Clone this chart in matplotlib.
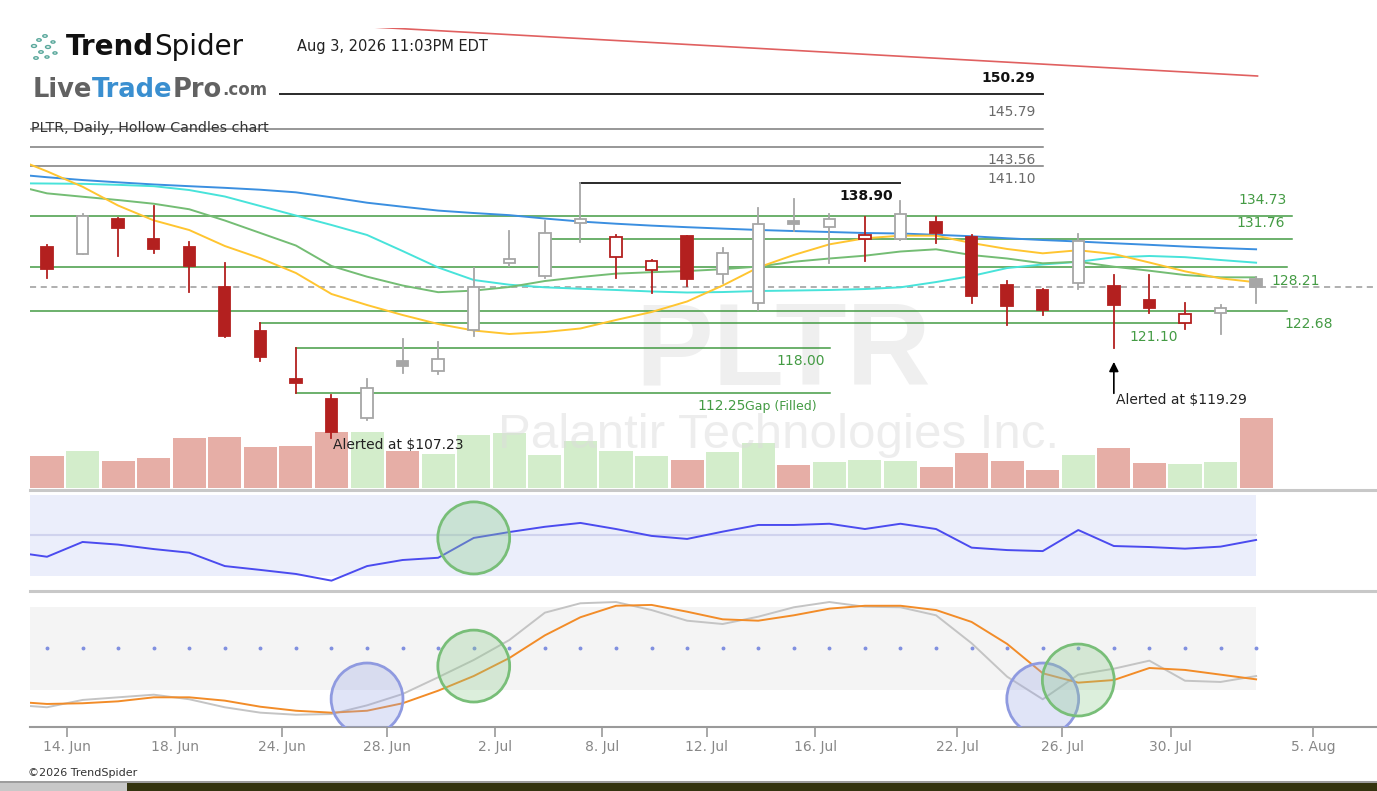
import numpy as np
import matplotlib
matplotlib.use('Agg')
import matplotlib.pyplot as plt
from matplotlib.patches import Rectangle, Ellipse, Circle
from matplotlib.lines import Line2D

# ---- data ----
opens = [130.83, 129.90, 134.39, 131.85, 130.83, 125.75, 120.12, 114.06, 111.52, 109.10,
         116.31, 115.04, 120.25, 128.80, 127.15, 133.80, 129.56, 127.83, 132.15, 127.36,
         123.64, 134.10, 133.29, 131.81, 131.77, 133.97, 132.10, 125.96, 125.33, 126.18,
         125.84, 124.06, 121.10, 122.37, 126.73]
highs = [131.05, 134.95, 134.45, 136.00, 131.39, 128.80, 121.10, 118.00, 112.00, 114.06,
         119.06, 118.76, 128.09, 132.82, 134.13, 138.90, 132.32, 129.14, 132.20, 130.70,
         135.71, 136.85, 134.95, 134.64, 136.67, 134.64, 132.32, 126.47, 125.40, 132.40,
         127.23, 127.23, 123.71, 123.42, 127.02]
lows = [126.81, 129.85, 129.65, 129.99, 125.04, 119.32, 116.31, 112.25, 106.48, 108.81,
        114.82, 114.62, 119.48, 128.42, 126.81, 131.47, 126.81, 124.91, 125.87, 126.25,
        122.79, 132.86, 128.72, 129.05, 131.70, 131.26, 123.64, 120.88, 122.15, 125.42,
        117.92, 122.44, 120.37, 119.74, 123.71]
closes = [128.00, 134.73, 133.21, 130.54, 128.42, 119.48, 116.78, 113.55, 107.30, 112.91,
          115.67, 116.60, 125.75, 129.23, 132.53, 134.39, 132.10, 128.97, 126.69, 130.03,
          133.70, 133.75, 134.35, 132.32, 134.95, 132.53, 124.57, 123.29, 122.79, 131.55,
          123.42, 123.00, 122.24, 123.08, 125.67]
volume = [38.4, 44.4, 32.4, 35.6, 59.6, 61.2, 49.2, 50.8, 67.2, 67.2,
          44.4, 41.2, 64.0, 66.0, 39.6, 56.4, 44.4, 38.4, 34.0, 43.2,
          53.6, 28.0, 30.8, 34.0, 32.4, 24.8, 41.6, 32.4, 21.6, 40.0,
          47.6, 29.6, 29.2, 30.8, 84.0]

# moving averages, first value is the bar before the visible window
ma_yellow = [142.23, 140.41, 138.45, 136.06, 134.18, 132.95, 130.92, 129.36, 127.49, 124.82,
             123.42, 122.15, 121.01, 120.18, 119.74, 119.99, 120.44, 121.52, 122.53, 123.87,
             125.90, 128.19, 129.78, 131.13, 131.90, 132.23, 132.23, 131.30, 130.54, 129.99,
             130.38, 129.90, 128.82, 127.70, 126.81, 126.31]
ma_green = [138.73, 137.61, 137.18, 136.76, 136.29, 135.59, 134.16, 132.57, 130.98, 128.38,
            127.02, 125.90, 125.05, 125.25, 125.71, 126.47, 126.98, 127.41, 127.59, 127.74,
            127.97, 128.31, 128.92, 129.33, 129.69, 130.22, 130.50, 129.77, 129.33, 128.72,
            128.92, 128.29, 127.78, 127.23, 126.94, 126.94]
ma_cyan = [138.89, 138.86, 138.82, 138.69, 138.52, 138.03, 137.21, 136.00, 134.79, 133.59,
           132.32, 130.28, 128.19, 126.60, 126.00, 125.67, 125.49, 125.33, 125.14, 125.01,
           125.07, 125.20, 125.26, 125.33, 125.45, 125.67, 126.34, 127.11, 128.12, 128.57,
           128.91, 129.48, 129.65, 129.50, 129.14, 128.80]
ma_blue = [140.07, 139.66, 139.30, 139.01, 138.74, 138.52, 138.31, 138.07, 137.74, 137.11,
           136.42, 135.91, 135.42, 135.11, 134.84, 134.41, 134.03, 133.75, 133.51, 133.31,
           133.13, 132.96, 132.82, 132.70, 132.57, 132.51, 132.34, 132.16, 131.90, 131.68,
           131.49, 131.27, 131.07, 130.85, 130.66, 130.50]

rsi = [42.0, 39.5, 46.8, 45.5, 43.3, 41.5, 34.9, 33.0, 31.0, 27.7, 34.9, 37.9, 39.0, 48.8,
       51.7, 54.3, 56.2, 53.2, 49.8, 48.3, 51.9, 55.2, 55.2, 55.8, 53.2, 55.8, 53.2, 44.0,
       42.8, 42.3, 52.7, 44.8, 44.3, 43.5, 44.5, 47.8]
stoch_k = [9.4, 7.5, 12.8, 14.7, 16.6, 13.3, 7.5, 3.6, 2.1, 2.6, 8.9, 17.1, 29.2, 41.7,
           56.1, 75.9, 82.7, 83.6, 77.8, 70.1, 67.7, 73.0, 79.8, 83.6, 80.2, 79.8, 74.0,
           53.8, 29.6, 13.3, 31.1, 35.4, 41.2, 26.7, 25.8, 30.1]
stoch_d = [11.7, 9.9, 10.4, 11.8, 14.7, 14.7, 12.3, 7.9, 5.0, 3.6, 5.0, 10.4, 19.5, 30.1,
           43.1, 59.5, 72.6, 80.9, 81.5, 76.6, 71.1, 70.1, 74.0, 78.8, 80.9, 80.9, 77.8,
           69.2, 53.3, 32.1, 25.3, 27.2, 35.9, 34.5, 31.1, 27.7]

# horizontal levels: price, start bar, end bar, style
levels = [150.29, 145.79, 143.56, 141.10, 138.90, 134.73, 131.76, 128.21, 122.68, 121.10, 118.00, 112.25]
lvl_start = [6.55, -1, -1, -1, 15, -1, 14, -1, -1, 6, 7, 7]
lvl_end = [28.0, 28.0, 28.0, 28.0, 24.0, 35.0, 35.0, 34.86, 34.86, 32.0, 22.02, 22.02]
lvl_kind = ['key', 'grey', 'grey', 'grey', 'key', 'green', 'green', 'green', 'green', 'green', 'green', 'green']
lbl_x = [27.8, 27.8, 27.8, 27.8, 23.8, 34.87, 34.8, 35.8, 36.16, 31.8, 21.88, None]
lbl_dy = [16, 16.5, -13, -13, -13, 16, 16, -14, -13, -13.5, -13, -13.5]   # px, + above

trend_x = [5.0, 34.04]
trend_y = [159.78, 152.52]

tick_pos = [0.55, 3.6, 6.6, 9.55, 12.6, 15.6, 18.55, 21.6, 25.6, 28.55, 31.6, 35.6]
tick_lbl = ['14. Jun', '18. Jun', '24. Jun', '28. Jun', '2. Jul', '8. Jul', '12. Jul',
            '16. Jul', '22. Jul', '26. Jul', '30. Jul', '5. Aug']

rsi_marks = [(12, 48.8)]
stoch_blue = [(9, 13.5), (28, 13.5)]
stoch_green = [(12, 37.3), (29, 27.2)]

# ---- figure ----
W, H = 1377, 791
plt.rcParams['font.family'] = ['DejaVu Sans']
fig = plt.figure(figsize=(W / 100, H / 100), dpi=100)
fig.patch.set_facecolor('white')


def fy(px):
    return 1 - px / H


n = len(closes)
idx = np.arange(n)
xm = np.arange(-1, n)
XL = (-0.478, 37.40)
RED = '#b3201f'
GREY = '#a6a6a6'
GREEN = '#449b44'

rect_main = [30 / W, fy(488), 1347 / W, 460 / H]
ax_vol = fig.add_axes(rect_main, zorder=1)
ax = fig.add_axes(rect_main, zorder=2)
ax.patch.set_visible(False)
ax_vol.patch.set_visible(False)
for a in (ax, ax_vol):
    a.set_xlim(*XL)
    a.axis('off')
ax.set_ylim(100.17, 158.62)

# volume
opens_a = np.array(opens)
closes_a = np.array(closes)
vol_col = np.where(closes_a < opens_a, '#e6aea6', '#d3edcb')
ax_vol.bar(idx, volume, width=0.93, color=vol_col, linewidth=0)
ax_vol.set_ylim(0, 552)

# watermarks
ax.text(20.7, 117.2, 'PLTR', fontsize=84, fontweight='bold', color='#efefef',
        ha='center', va='center', family=['Liberation Sans', 'DejaVu Sans'], zorder=0.5)
ax.text(20.56, 106.9, 'Palantir Technologies Inc.', fontsize=35.5, color='#dcdcdc', alpha=0.5,
        ha='center', va='center', family=['Liberation Sans', 'DejaVu Sans'], zorder=0.5)

# levels
for p, s, e, k, lx, dy in zip(levels, lvl_start, lvl_end, lvl_kind, lbl_x, lbl_dy):
    if k == 'key':
        col, lw, tcol, fw = '#2a2a2a', 1.4, '#111111', 'bold'
    elif k == 'grey':
        col, lw, tcol, fw = '#7a7a7a', 1.1, '#6a6a6a', 'normal'
    else:
        col, lw, tcol, fw = GREEN, 1.1, GREEN, 'normal'
    ax.plot([s, e], [p, p], color=col, lw=lw, zorder=2)
    if lx is not None:
        ax.annotate(f'{p:.2f}', (lx, p), xytext=(0, dy * 0.72), textcoords='offset points',
                    ha='right', va='center', fontsize=10, color=tcol, fontweight=fw, zorder=6)

# current price
ax.plot(XL, [closes[-1]] * 2, color='#9a9a9a', lw=1.1, ls=(0, (4, 3)), zorder=2)

# trend line
ax.plot(trend_x, trend_y, color='#e06060', lw=1.2, zorder=2)

# moving averages
ax.plot(xm, ma_blue, color='#3b8fe0', lw=1.4, zorder=3)
ax.plot(xm, ma_cyan, color='#48e3da', lw=1.4, zorder=3)
ax.plot(xm, ma_green, color='#74bd74', lw=1.4, zorder=3)
ax.plot(xm, ma_yellow, color='#ffc530', lw=1.4, zorder=3)

# hollow candles
prev = np.r_[opens[0], closes[:-1]]
bw = 0.32
for i in idx:
    o, h, l, c = opens[i], highs[i], lows[i], closes[i]
    col = GREY if c >= prev[i] else RED
    ax.plot([i, i], [l, h], color=col, lw=1.3, zorder=4)
    lo, ht = min(o, c), max(abs(c - o), 0.25)
    face = 'white' if c > o else col
    ax.add_patch(Rectangle((i - bw / 2, lo), bw, ht, facecolor=face, edgecolor=col,
                           lw=1.3, zorder=5))

# alerts
ax.text(8.04, 105.63, 'Alerted at $107.23', fontsize=10, color='#222222', ha='left', va='center', zorder=6)
ax.annotate('', xy=(30, 116.2), xytext=(30, 112.2),
            arrowprops=dict(arrowstyle='-|>', color='black', lw=1.2, mutation_scale=14,
                            shrinkA=0, shrinkB=0), zorder=6)
ax.text(30.05, 111.35, 'Alerted at $119.29', fontsize=10, color='#222222', ha='left', va='center', zorder=6)

# ---- RSI panel ----
ax2 = fig.add_axes([30 / W, fy(588), 1347 / W, 96 / H])
ax2.set_xlim(*XL)
ax2.set_ylim(24.07, 71.48)
ax2.axis('off')
band_end = (34 - XL[0]) / (XL[1] - XL[0])
ax2.axhspan(30, 70, xmin=0, xmax=band_end, color='#ebeefb', lw=0)
ax2.plot([XL[0], 34], [50, 50], color='#d0d3ee', lw=1.5)
ax2.plot(xm, rsi, color='#4b4bef', lw=1.4, zorder=3)
for cx, cy in rsi_marks:
    ax2.add_patch(Ellipse((cx, cy), 2.02, 35.6, facecolor=(0.55, 0.8, 0.55, 0.35),
                          edgecolor='#78be78', lw=2, zorder=4))

# ---- stochastic panel ----
ax3 = fig.add_axes([30 / W, fy(727), 1347 / W, 135 / H])
ax3.set_xlim(*XL)
ax3.set_ylim(-6.76, 90.85)
ax3.axhspan(20, 80, xmin=0, xmax=band_end, color='#f4f4f4', lw=0)
ax3.plot(idx, [50] * n, ls='none', marker='o', ms=1.8, color='#8190e0')
ax3.plot(xm, stoch_k, color='#c4c4c4', lw=1.4, zorder=3)
ax3.plot(xm, stoch_d, color='#f28c28', lw=1.4, zorder=3)
for cx, cy in stoch_blue:
    ax3.add_patch(Ellipse((cx, cy), 2.02, 52, facecolor=(0.6, 0.65, 0.9, 0.3),
                          edgecolor='#8f9ae0', lw=2, zorder=4))
for cx, cy in stoch_green:
    ax3.add_patch(Ellipse((cx, cy), 2.02, 52, facecolor=(0.55, 0.8, 0.55, 0.3),
                          edgecolor='#78be78', lw=2, zorder=4))
for sp in ('top', 'left', 'right'):
    ax3.spines[sp].set_visible(False)
ax3.spines['bottom'].set_color('#9a9a9a')
ax3.spines['bottom'].set_linewidth(1.5)
ax3.set_yticks([])
ax3.set_xticks(tick_pos)
ax3.set_xticklabels(tick_lbl)
ax3.tick_params(axis='x', direction='out', length=7, width=1.2, color='#9a9a9a',
                labelcolor='#888888', labelsize=10, pad=2)

# separators
for ypx in (489.5, 590.5):
    fig.add_artist(Line2D([30 / W, 1], [fy(ypx)] * 2, transform=fig.transFigure,
                          color='#c8c8c8', lw=2.2))

# ---- header ----
rend = fig.canvas.get_renderer()


def text_run(x_px, y_px, parts):
    x = x_px
    for s, kw in parts:
        t = fig.text(x / W, fy(y_px), s, ha='left', va='center', **kw)
        x += t.get_window_extent(renderer=rend).width


# small logo mark
for (cx, cy, r) in [(34, 46, 2.5), (39, 40, 2.2), (45, 36, 2.2), (41, 52, 2.2), (48, 47, 2.5),
                    (53, 42, 2.0), (36, 58, 2.2), (47, 57, 2.0), (55, 53, 2.0)]:
    fig.add_artist(Circle((cx / W, fy(cy)), r / W, transform=fig.transFigure,
                          fill=False, edgecolor='#5aa89c', lw=1.0))
text_run(66, 47, [('Trend', dict(fontsize=20, fontweight='bold', color='#111111')),
                  ('Spider', dict(fontsize=20, color='#111111'))])
fig.text(297 / W, fy(47), 'Aug 3, 2026 11:03PM EDT', fontsize=10.5, color='#222222', va='center')
text_run(33, 90, [('Live', dict(fontsize=18.5, fontweight='heavy', color='#626262')),
                  ('Trade', dict(fontsize=18.5, fontweight='heavy', color='#3a8fd0')),
                  ('Pro', dict(fontsize=18.5, fontweight='heavy', color='#626262')),
                  ('.com', dict(fontsize=12, fontweight='heavy', color='#626262'))])
fig.text(31 / W, fy(128), 'PLTR, Daily, Hollow Candles chart', fontsize=10.3, color='#333333', va='center')

# gap label, two sizes
gx, gy = ax.transData.transform((18.28, 112.25))
text_run(gx, H - gy + 13.5, [('112.25', dict(fontsize=10, color=GREEN)),
                             ('Gap (Filled)', dict(fontsize=9, color=GREEN))])

# footer
fig.text(28 / W, fy(773), '\u00a92026 TrendSpider', fontsize=8, color='#333333', va='center')
fig.add_artist(Line2D([0, 1], [fy(781.5)] * 2, transform=fig.transFigure, color='#8a8a8a', lw=1.2))
fig.add_artist(Rectangle((0, 0), 1, 8 / H, transform=fig.transFigure, color='#34340f', lw=0))
fig.add_artist(Rectangle((0, 0), 127 / W, 8 / H, transform=fig.transFigure, color='#c8c8c8', lw=0))

fig.savefig('out.png', dpi=100)
